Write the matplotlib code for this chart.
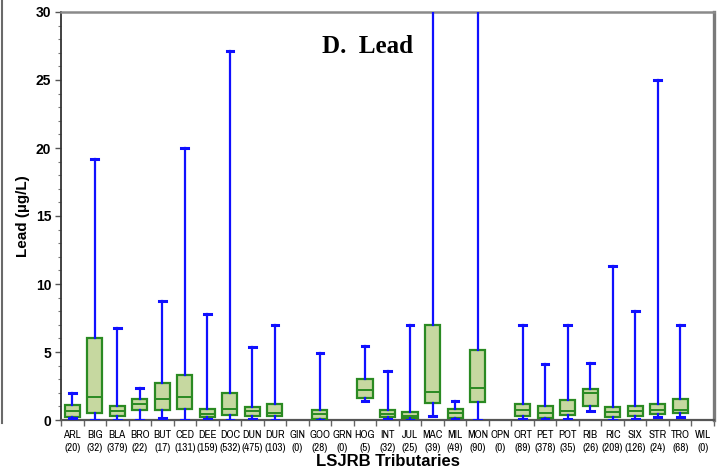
import matplotlib
matplotlib.use("Agg")
import matplotlib.pyplot as plt
from matplotlib.lines import Line2D
from matplotlib.ticker import MultipleLocator, FixedLocator
import numpy as np

# Tributary codes and sample counts
tributaries = ["ARL", "BIG", "BLA", "BRO", "BUT", "CED", "DEE", "DOC", "DUN", "DUR",
               "GIN", "GOO", "GRN", "HOG", "INT", "JUL", "MAC", "MIL", "MON", "OPN",
               "ORT", "PET", "POT", "RIB", "RIC", "SIX", "STR", "TRO", "WIL"]
counts = [20, 32, 379, 22, 17, 131, 159, 532, 475, 103,
          0, 28, 0, 5, 32, 25, 39, 49, 90, 0,
          89, 378, 35, 26, 209, 126, 24, 68, 0]

# Box-plot summary statistics, lead (ug/L); None = no data
whis_low = [0.15, 0.02, 0.02, 0.02, 0.16, 0.02, 0.05, 0.02, 0.05, 0.02,
            None, 0.02, None, 1.43, 0.05, 0.02, 0.26, 0.05, 0.02, None,
            0.05, 0.05, 0.10, 0.63, 0.02, 0.05, 0.20, 0.20, None]
q1 = [0.25, 0.55, 0.26, 0.75, 0.75, 0.80, 0.20, 0.40, 0.26, 0.26,
      None, 0.10, None, 1.62, 0.20, 0.16, 1.27, 0.16, 1.31, None,
      0.33, 0.16, 0.40, 1.05, 0.20, 0.26, 0.45, 0.50, None]
median = [0.65, 1.68, 0.65, 1.14, 1.53, 1.68, 0.45, 0.82, 0.64, 0.55,
          None, 0.42, None, 2.17, 0.45, 0.33, 2.03, 0.53, 2.37, None,
          0.75, 0.50, 0.65, 1.95, 0.58, 0.65, 0.77, 0.77, None]
q3 = [1.07, 6.05, 1.04, 1.58, 2.74, 3.28, 0.82, 1.95, 0.99, 1.14,
      None, 0.70, None, 3.03, 0.70, 0.58, 6.98, 0.82, 5.12, None,
      1.14, 1.02, 1.46, 2.25, 0.99, 1.04, 1.14, 1.56, None]
whis_high = [1.97, 19.2, 6.8, 2.32, 8.75, 20.0, 7.78, 27.1, 5.35, 7.0,
             None, 4.95, None, 5.46, 3.57, 7.0, 35.0, 1.43, 32.0, None,
             7.0, 4.09, 7.0, 4.18, 11.3, 8.0, 25.0, 7.0, None]

stats, positions = [], []
for i, name in enumerate(tributaries):
    if median[i] is None:
        continue
    stats.append(dict(label=name, whislo=whis_low[i], q1=q1[i], med=median[i],
                      q3=q3[i], whishi=whis_high[i], fliers=[]))
    positions.append(i)

fig = plt.figure(figsize=(7.26, 4.72), dpi=100)
ax = fig.add_axes([61 / 726, 1 - 420 / 472, (714 - 61) / 726, (420 - 12) / 472])

box_edge = "#2a8a22"
box_fill = "#c6d8a0"
whisk = "#1010ff"

ax.bxp(stats, positions=positions, widths=0.67, patch_artist=True,
       showfliers=False, capwidths=0.3,
       boxprops=dict(facecolor=box_fill, edgecolor=box_edge, linewidth=1.6),
       medianprops=dict(color=box_edge, linewidth=1.4),
       whiskerprops=dict(color=whisk, linewidth=1.6),
       capprops=dict(color=whisk, linewidth=2.2),
       manage_ticks=False, zorder=3)

n = len(tributaries)
ax.set_xlim(-0.5, n - 0.5)
ax.set_ylim(0, 30)

# y axis ticks
ax.yaxis.set_major_locator(MultipleLocator(5))
ax.yaxis.set_minor_locator(MultipleLocator(1))
ax.tick_params(axis="y", which="major", direction="out", length=4, width=1,
               color="#555555", pad=3)
ax.tick_params(axis="y", which="minor", direction="out", length=2.5, width=0.8,
               color="#777777")
for lab in ax.get_yticklabels():
    lab.set_fontfamily("Liberation Sans")
    lab.set_fontweight("bold")
    lab.set_fontsize(10)

# x axis: labels at category centres, tick marks at category boundaries
narrow = ["Archivo Narrow", "Liberation Sans"]
ax.xaxis.set_major_locator(FixedLocator(np.arange(n)))
ax.set_xticklabels([f"{t}\n({c})" for t, c in zip(tributaries, counts)],
                   fontfamily=narrow, fontsize=8, linespacing=1.35)
ax.xaxis.set_minor_locator(FixedLocator(np.arange(n + 1) - 0.5))
ax.tick_params(axis="x", which="major", length=0, pad=7)
ax.tick_params(axis="x", which="minor", direction="out", length=4, width=1,
               color="#666666")

ax.set_xlabel("LSJRB Tributaries", fontfamily="Liberation Sans",
              fontweight="bold", fontsize=12, labelpad=1)
ax.set_ylabel("Lead (µg/L)", fontfamily="Liberation Sans",
              fontweight="bold", fontsize=11, labelpad=4)

for side, col, lw in [("left", "#333333", 1.3), ("bottom", "#555555", 1.6),
                      ("top", "#8a8a8a", 1.8), ("right", "#7a7a7a", 2.4)]:
    ax.spines[side].set_color(col)
    ax.spines[side].set_linewidth(lw)

ax.text(0.47, 0.915, "D.  Lead", transform=ax.transAxes, ha="center", va="center",
        fontfamily="Liberation Serif", fontweight="bold", fontsize=18, zorder=5)

# thin frame line along the left edge of the figure
fig.add_artist(Line2D([1.5 / 726, 1.5 / 726], [1 - 423 / 472, 1.0],
                      transform=fig.transFigure, color="#6a6a6a", linewidth=1.5))

fig.savefig("out.png", dpi=100)
